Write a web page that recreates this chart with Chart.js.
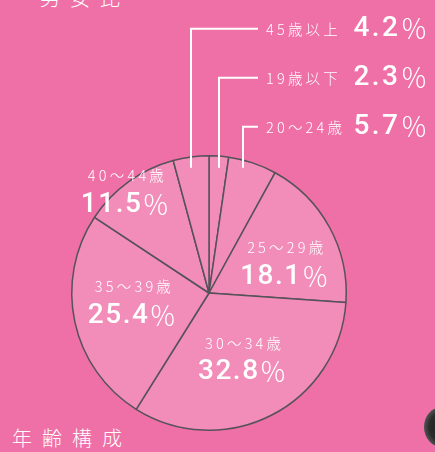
<!DOCTYPE html>
<html>
<head>
<meta charset="utf-8">
<script src="https://cdn.jsdelivr.net/npm/chart.js@4.4.1/dist/chart.umd.min.js"></script>
<style>
  html, body { margin: 0; padding: 0; }
  body { width: 435px; height: 452px; background: #ef70a7; position: relative; overflow: hidden;
         font-family: "Noto Sans CJK JP", sans-serif; color: #fff; }
  #wrap { position: absolute; left: 0; top: 0; width: 435px; height: 452px; }
  .head { position: absolute; font-size: 20px; font-weight: 300; letter-spacing: 10px; line-height: 20px; white-space: nowrap; }
  #blob { position: absolute; left: 424px; top: 407px; width: 36px; height: 40px; border-radius: 50%;
          background: radial-gradient(circle at 60% 50%, #1e1e1e 0%, #2b2b2b 55%, #6a6a6a 85%, rgba(120,120,120,0) 100%); }
</style>
</head>
<body>
<div class="head" style="left:40px; top:-12px;">男女比</div>
<div class="head" style="left:12px; top:428px;">年齢構成</div>
<div id="blob"></div>
<div id="wrap"><canvas id="age-chart" width="435" height="452"></canvas></div>
<script>
// age composition data
var ageLabels = ['19歳以下', '20～24歳', '25～29歳', '30～34歳', '35～39歳', '40～44歳', '45歳以上'];
var ageShares = [2.3, 5.7, 18.1, 32.8, 25.4, 11.5, 4.2];

// slices labelled outside with a leader line, top row first
var calloutOrder = [6, 0, 1];

var sliceFill = '#f28cb8';
var sliceBorder = '#56525a';

// where the inner labels go, relative to the pie centre (in radii)
var innerSpots = { 2: [0.555, -0.226], 3: [0.248, 0.467], 4: [-0.555, 0.058], 5: [-0.606, -0.752] };
// radius used for each leader line foot
var calloutReach = { 6: 1, 0: 1, 1: 0.79 };

function pctText(v) { return v.toFixed(1); }

function drawPct(ctx, value, x, y, align, spacing) {
  // number in a latin face, the ％ sign lighter
  ctx.font = '500 28px Roboto, "Noto Sans CJK JP"';
  ctx.letterSpacing = spacing + 'px';
  var num = pctText(value);
  var wNum = ctx.measureText(num).width;
  ctx.font = '300 27px "Noto Sans CJK JP"';
  var wPct = ctx.measureText('％').width;
  var left = align === 'center' ? x - (wNum + wPct) / 2 : x - (wNum + wPct);
  ctx.textAlign = 'left';
  ctx.font = '500 28px Roboto, "Noto Sans CJK JP"';
  ctx.fillText(num, left, y);
  ctx.font = '300 27px "Noto Sans CJK JP"';
  ctx.fillText('％', left + wNum, y);
}

var labelPlugin = {
  id: 'ageLabels',
  afterDatasetsDraw: function(chart) {
    var ctx = chart.ctx;
    var arcs = chart.getDatasetMeta(0).data;
    var c = arcs[0].getProps(['x', 'y', 'outerRadius'], true);
    var cx = c.x, cy = c.y, r = c.outerRadius;

    ctx.save();
    ctx.fillStyle = '#ffffff';
    ctx.textBaseline = 'middle';

    // labels inside the pie
    Object.keys(innerSpots).forEach(function(k) {
      var i = +k;
      var x = cx + innerSpots[k][0] * r;
      var y = cy + innerSpots[k][1] * r;
      ctx.font = '300 14.5px "Noto Sans CJK JP"';
      ctx.letterSpacing = '3.2px';
      ctx.textAlign = 'center';
      ctx.fillText(ageLabels[i], x + 1.6, y - 14);
      drawPct(ctx, ageShares[i], x, y + 15, 'center', 1.5);
    });

    // leader lines and labels outside
    var rowTop = cy - r - 127;
    var elbowX = cx + 49;
    ctx.strokeStyle = '#ffffff';
    ctx.lineWidth = 2;
    calloutOrder.forEach(function(i, row) {
      var p = arcs[i].getProps(['startAngle', 'endAngle'], true);
      var mid = (p.startAngle + p.endAngle) / 2;
      var footX = Math.round(cx + Math.cos(mid) * r * calloutReach[i]);
      var footY = cy - r + 12;
      var rowY = rowTop + row * 49;
      ctx.beginPath();
      ctx.moveTo(footX, footY);
      ctx.lineTo(footX, rowY);
      ctx.lineTo(elbowX, rowY);
      ctx.stroke();

      ctx.font = '300 14.5px "Noto Sans CJK JP"';
      ctx.letterSpacing = '3.2px';
      ctx.textAlign = 'left';
      ctx.fillText(ageLabels[i], elbowX + 8, rowY + 1);
      drawPct(ctx, ageShares[i], 430, rowY, 'right', 2.5);
    });
    ctx.restore();
  }
};

var agectx = document.getElementById('age-chart').getContext('2d');
var ageChart = new Chart(agectx, {
  type: 'pie',
  data: {
    labels: ageLabels,
    datasets: [{
      data: ageShares,
      backgroundColor: sliceFill,
      borderColor: sliceBorder,
      borderWidth: 1.5,
      borderAlign: 'center'
    }]
  },
  options: {
    responsive: false,
    animation: false,
    layout: { padding: { left: 71, right: 88, top: 155, bottom: 21 } },
    plugins: {
      legend: { display: false },
      tooltip: { enabled: false }
    }
  },
  plugins: [labelPlugin]
});
</script>
</body>
</html>
